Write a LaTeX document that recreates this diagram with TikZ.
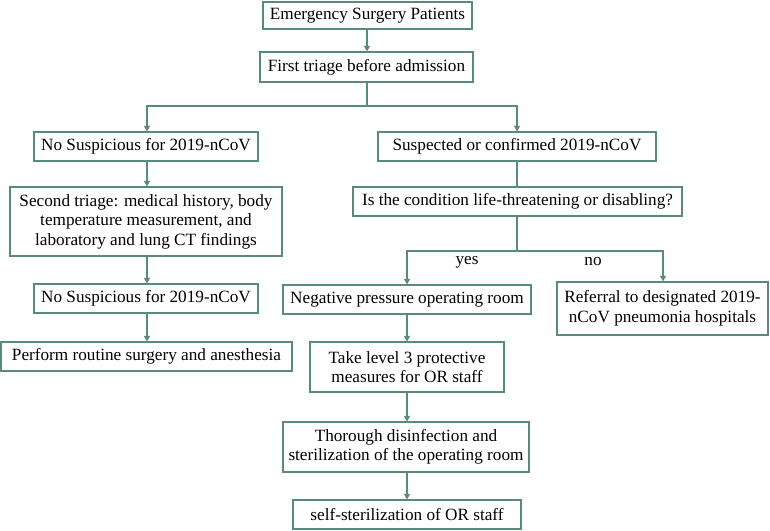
\documentclass[tikz,border=0pt]{standalone}
\usepackage{fontspec}
\setmainfont{Liberation Serif}
\usetikzlibrary{arrows.meta}
\definecolor{lc}{RGB}{88,138,126}
\begin{document}
\begin{tikzpicture}[x=1pt,y=-1pt,
  box/.style={draw=lc,line width=1.2pt,inner sep=0pt,align=center,font=\rmfamily\fontsize{17.2}{19.5}\selectfont},
  arr/.style={draw=lc,line width=1.1pt,-{Triangle[width=6pt,length=5.5pt]}},
  ln/.style={draw=lc,line width=1.1pt},
  lab/.style={font=\rmfamily\fontsize{17.2}{19.5}\selectfont}]
\useasboundingbox (0,0) rectangle (770,530);
\node[box,minimum width=209pt,minimum height=27pt] (n1) at (367.5,15.5) {Emergency Surgery Patients};
\node[box,minimum width=213pt,minimum height=30pt] (n2) at (366.5,67) {First triage before admission};
\node[box,minimum width=224pt,minimum height=29pt] (n3) at (146,146.5) {No Suspicious for 2019-nCoV};
\node[box,minimum width=272pt,minimum height=69pt] (n4) at (146,221.5) {Second triage: medical history, body\\temperature measurement, and\\laboratory and lung CT findings};
\node[box,minimum width=224pt,minimum height=29pt] (n5) at (146,298.5) {No Suspicious for 2019-nCoV};
\node[box,minimum width=291pt,minimum height=29pt] (n6) at (146.5,356.5) {Perform routine surgery and anesthesia};
\node[box,minimum width=278pt,minimum height=29pt] (n7) at (517,146.5) {Suspected or confirmed 2019-nCoV};
\node[box,minimum width=329pt,minimum height=29pt] (n8) at (517.5,201.5) {Is the condition life-threatening or disabling?};
\node[box,minimum width=248pt,minimum height=29pt] (n9) at (407,299.5) {Negative pressure operating room};
\node[box,minimum width=211pt,minimum height=53pt] (n10) at (662.5,308.5) {Referral to designated 2019-\\nCoV pneumonia hospitals};
\node[box,minimum width=194pt,minimum height=50pt] (n11) at (407,367) {Take level 3 protective\\measures for OR staff};
\node[box,minimum width=246pt,minimum height=50pt] (n12) at (406,447) {Thorough disinfection and\\sterilization of the operating room};
\node[box,minimum width=228pt,minimum height=29pt] (n13) at (407,514.5) {self-sterilization of OR staff};
\coordinate (j1) at (367,106);
\coordinate (j2) at (517,251);
\draw[arr] (n1.south -| 367,0) -- (n2.north -| 367,0);
\draw[ln] (n2.south -| j1) -- (j1);
\draw[arr] (j1) -| (n3.north -| 147,0);
\draw[arr] (j1) -| (n7.north);
\draw[arr] (n3.south -| 147,0) -- (n4.north -| 147,0);
\draw[arr] (n4.south -| 147,0) -- (n5.north -| 147,0);
\draw[arr] (n5.south -| 147,0) -- (n6.north -| 147,0);
\draw[ln] (n7.south) -- (n8.north -| n7.south);
\draw[ln] (n8.south -| j2) -- (j2);
\draw[arr] (j2) -| (n9.north);
\draw[arr] (j2) -| (n10.north -| 663,0);
\draw[arr] (n9.south) -- (n11.north);
\draw[arr] (n11.south) -- (n12.north -| n11.south);
\draw[arr] (n12.south -| n11.south) -- (n13.north);
\node[lab] (yes) at (467,262) {yes};
\node[lab] (no) at (593,262) {no};
\end{tikzpicture}
\end{document}
